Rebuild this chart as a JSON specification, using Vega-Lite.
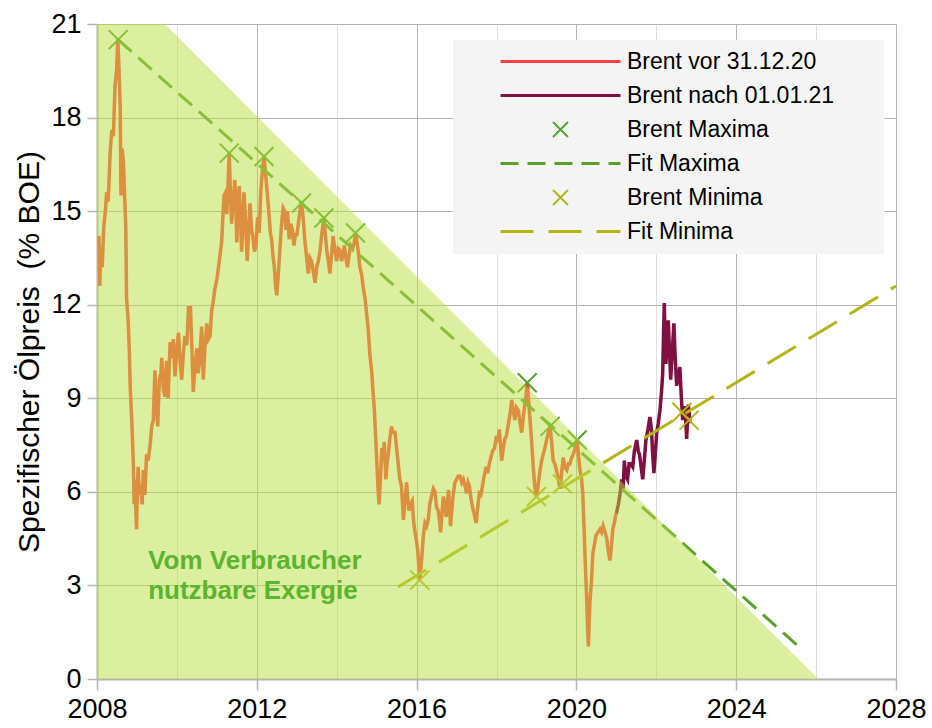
{
  "$schema": "https://vega.github.io/schema/vega-lite/v6.json",
  "width": 799,
  "height": 655,
  "autosize": "none",
  "padding": {"left": 97, "top": 24, "right": 36, "bottom": 49},
  "background": "white",
  "config": {
    "view": {"stroke": null},
    "font": "Liberation Sans",
    "axis": {
      "labelFont": "Liberation Sans",
      "labelFontSize": 27,
      "labelColor": "black",
      "titleFont": "Liberation Sans",
      "titleFontSize": 30,
      "titleFontWeight": "normal",
      "titleColor": "black",
      "domainColor": "#b3b3b3",
      "domainWidth": 2,
      "tickColor": "#b3b3b3",
      "tickWidth": 1.5,
      "gridColor": "#b3b3b3",
      "gridWidth": 1
    }
  },
  "datasets": {
    "brent": [
      {"year": 2008.05, "value": 14.2, "series": "Brent vor 31.12.20"},
      {"year": 2008.06, "value": 13.3, "series": "Brent vor 31.12.20"},
      {"year": 2008.07, "value": 12.6, "series": "Brent vor 31.12.20"},
      {"year": 2008.09, "value": 13.6, "series": "Brent vor 31.12.20"},
      {"year": 2008.13, "value": 13.2, "series": "Brent vor 31.12.20"},
      {"year": 2008.17, "value": 14.5, "series": "Brent vor 31.12.20"},
      {"year": 2008.21, "value": 15.0, "series": "Brent vor 31.12.20"},
      {"year": 2008.24, "value": 15.6, "series": "Brent vor 31.12.20"},
      {"year": 2008.28, "value": 15.3, "series": "Brent vor 31.12.20"},
      {"year": 2008.33, "value": 16.9, "series": "Brent vor 31.12.20"},
      {"year": 2008.37, "value": 17.6, "series": "Brent vor 31.12.20"},
      {"year": 2008.41, "value": 17.4, "series": "Brent vor 31.12.20"},
      {"year": 2008.45, "value": 19.0, "series": "Brent vor 31.12.20"},
      {"year": 2008.49, "value": 19.5, "series": "Brent vor 31.12.20"},
      {"year": 2008.52, "value": 20.5, "series": "Brent vor 31.12.20"},
      {"year": 2008.55, "value": 19.6, "series": "Brent vor 31.12.20"},
      {"year": 2008.58, "value": 18.4, "series": "Brent vor 31.12.20"},
      {"year": 2008.60, "value": 15.5, "series": "Brent vor 31.12.20"},
      {"year": 2008.63, "value": 17.0, "series": "Brent vor 31.12.20"},
      {"year": 2008.66, "value": 16.6, "series": "Brent vor 31.12.20"},
      {"year": 2008.70, "value": 15.2, "series": "Brent vor 31.12.20"},
      {"year": 2008.72, "value": 14.5, "series": "Brent vor 31.12.20"},
      {"year": 2008.74, "value": 12.2, "series": "Brent vor 31.12.20"},
      {"year": 2008.78, "value": 11.5, "series": "Brent vor 31.12.20"},
      {"year": 2008.81, "value": 10.5, "series": "Brent vor 31.12.20"},
      {"year": 2008.83, "value": 9.4, "series": "Brent vor 31.12.20"},
      {"year": 2008.87, "value": 8.3, "series": "Brent vor 31.12.20"},
      {"year": 2008.91, "value": 6.9, "series": "Brent vor 31.12.20"},
      {"year": 2008.93, "value": 5.6, "series": "Brent vor 31.12.20"},
      {"year": 2008.95, "value": 6.4, "series": "Brent vor 31.12.20"},
      {"year": 2008.97, "value": 5.5, "series": "Brent vor 31.12.20"},
      {"year": 2008.99, "value": 4.8, "series": "Brent vor 31.12.20"},
      {"year": 2009.01, "value": 6.1, "series": "Brent vor 31.12.20"},
      {"year": 2009.03, "value": 6.8, "series": "Brent vor 31.12.20"},
      {"year": 2009.06, "value": 5.9, "series": "Brent vor 31.12.20"},
      {"year": 2009.10, "value": 6.2, "series": "Brent vor 31.12.20"},
      {"year": 2009.13, "value": 5.6, "series": "Brent vor 31.12.20"},
      {"year": 2009.16, "value": 6.7, "series": "Brent vor 31.12.20"},
      {"year": 2009.20, "value": 5.9, "series": "Brent vor 31.12.20"},
      {"year": 2009.24, "value": 7.2, "series": "Brent vor 31.12.20"},
      {"year": 2009.28, "value": 7.0, "series": "Brent vor 31.12.20"},
      {"year": 2009.33, "value": 7.5, "series": "Brent vor 31.12.20"},
      {"year": 2009.37, "value": 8.1, "series": "Brent vor 31.12.20"},
      {"year": 2009.41, "value": 8.3, "series": "Brent vor 31.12.20"},
      {"year": 2009.45, "value": 9.9, "series": "Brent vor 31.12.20"},
      {"year": 2009.48, "value": 8.8, "series": "Brent vor 31.12.20"},
      {"year": 2009.52, "value": 8.1, "series": "Brent vor 31.12.20"},
      {"year": 2009.56, "value": 9.6, "series": "Brent vor 31.12.20"},
      {"year": 2009.60, "value": 9.8, "series": "Brent vor 31.12.20"},
      {"year": 2009.62, "value": 10.3, "series": "Brent vor 31.12.20"},
      {"year": 2009.66, "value": 9.3, "series": "Brent vor 31.12.20"},
      {"year": 2009.70, "value": 9.05, "series": "Brent vor 31.12.20"},
      {"year": 2009.74, "value": 10.2, "series": "Brent vor 31.12.20"},
      {"year": 2009.78, "value": 9.0, "series": "Brent vor 31.12.20"},
      {"year": 2009.83, "value": 10.8, "series": "Brent vor 31.12.20"},
      {"year": 2009.87, "value": 10.3, "series": "Brent vor 31.12.20"},
      {"year": 2009.91, "value": 10.9, "series": "Brent vor 31.12.20"},
      {"year": 2009.95, "value": 9.7, "series": "Brent vor 31.12.20"},
      {"year": 2010.00, "value": 10.6, "series": "Brent vor 31.12.20"},
      {"year": 2010.04, "value": 11.1, "series": "Brent vor 31.12.20"},
      {"year": 2010.08, "value": 10.2, "series": "Brent vor 31.12.20"},
      {"year": 2010.12, "value": 9.6, "series": "Brent vor 31.12.20"},
      {"year": 2010.16, "value": 10.4, "series": "Brent vor 31.12.20"},
      {"year": 2010.20, "value": 11.0, "series": "Brent vor 31.12.20"},
      {"year": 2010.25, "value": 10.7, "series": "Brent vor 31.12.20"},
      {"year": 2010.29, "value": 11.9, "series": "Brent vor 31.12.20"},
      {"year": 2010.34, "value": 11.9, "series": "Brent vor 31.12.20"},
      {"year": 2010.38, "value": 10.4, "series": "Brent vor 31.12.20"},
      {"year": 2010.41, "value": 9.2, "series": "Brent vor 31.12.20"},
      {"year": 2010.45, "value": 10.0, "series": "Brent vor 31.12.20"},
      {"year": 2010.50, "value": 10.6, "series": "Brent vor 31.12.20"},
      {"year": 2010.53, "value": 9.8, "series": "Brent vor 31.12.20"},
      {"year": 2010.56, "value": 10.1, "series": "Brent vor 31.12.20"},
      {"year": 2010.60, "value": 10.9, "series": "Brent vor 31.12.20"},
      {"year": 2010.62, "value": 11.3, "series": "Brent vor 31.12.20"},
      {"year": 2010.66, "value": 9.6, "series": "Brent vor 31.12.20"},
      {"year": 2010.70, "value": 10.6, "series": "Brent vor 31.12.20"},
      {"year": 2010.75, "value": 11.4, "series": "Brent vor 31.12.20"},
      {"year": 2010.79, "value": 10.9, "series": "Brent vor 31.12.20"},
      {"year": 2010.83, "value": 11.0, "series": "Brent vor 31.12.20"},
      {"year": 2010.87, "value": 11.8, "series": "Brent vor 31.12.20"},
      {"year": 2010.91, "value": 12.1, "series": "Brent vor 31.12.20"},
      {"year": 2010.95, "value": 12.5, "series": "Brent vor 31.12.20"},
      {"year": 2011.00, "value": 12.8, "series": "Brent vor 31.12.20"},
      {"year": 2011.04, "value": 13.2, "series": "Brent vor 31.12.20"},
      {"year": 2011.08, "value": 13.6, "series": "Brent vor 31.12.20"},
      {"year": 2011.12, "value": 14.0, "series": "Brent vor 31.12.20"},
      {"year": 2011.15, "value": 14.8, "series": "Brent vor 31.12.20"},
      {"year": 2011.18, "value": 15.5, "series": "Brent vor 31.12.20"},
      {"year": 2011.22, "value": 15.6, "series": "Brent vor 31.12.20"},
      {"year": 2011.25, "value": 14.9, "series": "Brent vor 31.12.20"},
      {"year": 2011.28, "value": 15.9, "series": "Brent vor 31.12.20"},
      {"year": 2011.31, "value": 16.85, "series": "Brent vor 31.12.20"},
      {"year": 2011.34, "value": 15.6, "series": "Brent vor 31.12.20"},
      {"year": 2011.37, "value": 14.6, "series": "Brent vor 31.12.20"},
      {"year": 2011.41, "value": 15.3, "series": "Brent vor 31.12.20"},
      {"year": 2011.45, "value": 16.0, "series": "Brent vor 31.12.20"},
      {"year": 2011.48, "value": 15.0, "series": "Brent vor 31.12.20"},
      {"year": 2011.50, "value": 14.0, "series": "Brent vor 31.12.20"},
      {"year": 2011.53, "value": 15.2, "series": "Brent vor 31.12.20"},
      {"year": 2011.56, "value": 15.8, "series": "Brent vor 31.12.20"},
      {"year": 2011.59, "value": 14.9, "series": "Brent vor 31.12.20"},
      {"year": 2011.62, "value": 13.7, "series": "Brent vor 31.12.20"},
      {"year": 2011.65, "value": 14.6, "series": "Brent vor 31.12.20"},
      {"year": 2011.68, "value": 15.6, "series": "Brent vor 31.12.20"},
      {"year": 2011.72, "value": 14.6, "series": "Brent vor 31.12.20"},
      {"year": 2011.76, "value": 13.4, "series": "Brent vor 31.12.20"},
      {"year": 2011.80, "value": 14.5, "series": "Brent vor 31.12.20"},
      {"year": 2011.83, "value": 15.25, "series": "Brent vor 31.12.20"},
      {"year": 2011.87, "value": 14.4, "series": "Brent vor 31.12.20"},
      {"year": 2011.90, "value": 14.2, "series": "Brent vor 31.12.20"},
      {"year": 2011.94, "value": 13.7, "series": "Brent vor 31.12.20"},
      {"year": 2011.98, "value": 13.9, "series": "Brent vor 31.12.20"},
      {"year": 2012.02, "value": 14.8, "series": "Brent vor 31.12.20"},
      {"year": 2012.06, "value": 14.3, "series": "Brent vor 31.12.20"},
      {"year": 2012.10, "value": 15.6, "series": "Brent vor 31.12.20"},
      {"year": 2012.14, "value": 16.3, "series": "Brent vor 31.12.20"},
      {"year": 2012.18, "value": 16.75, "series": "Brent vor 31.12.20"},
      {"year": 2012.22, "value": 16.2, "series": "Brent vor 31.12.20"},
      {"year": 2012.26, "value": 15.6, "series": "Brent vor 31.12.20"},
      {"year": 2012.30, "value": 15.0, "series": "Brent vor 31.12.20"},
      {"year": 2012.34, "value": 14.3, "series": "Brent vor 31.12.20"},
      {"year": 2012.37, "value": 14.1, "series": "Brent vor 31.12.20"},
      {"year": 2012.41, "value": 13.5, "series": "Brent vor 31.12.20"},
      {"year": 2012.44, "value": 13.2, "series": "Brent vor 31.12.20"},
      {"year": 2012.47, "value": 12.6, "series": "Brent vor 31.12.20"},
      {"year": 2012.50, "value": 12.3, "series": "Brent vor 31.12.20"},
      {"year": 2012.54, "value": 13.0, "series": "Brent vor 31.12.20"},
      {"year": 2012.58, "value": 13.8, "series": "Brent vor 31.12.20"},
      {"year": 2012.62, "value": 14.6, "series": "Brent vor 31.12.20"},
      {"year": 2012.66, "value": 15.1, "series": "Brent vor 31.12.20"},
      {"year": 2012.70, "value": 15.0, "series": "Brent vor 31.12.20"},
      {"year": 2012.73, "value": 14.4, "series": "Brent vor 31.12.20"},
      {"year": 2012.77, "value": 15.0, "series": "Brent vor 31.12.20"},
      {"year": 2012.81, "value": 14.1, "series": "Brent vor 31.12.20"},
      {"year": 2012.85, "value": 14.6, "series": "Brent vor 31.12.20"},
      {"year": 2012.89, "value": 14.4, "series": "Brent vor 31.12.20"},
      {"year": 2012.93, "value": 13.9, "series": "Brent vor 31.12.20"},
      {"year": 2012.97, "value": 14.3, "series": "Brent vor 31.12.20"},
      {"year": 2013.00, "value": 14.2, "series": "Brent vor 31.12.20"},
      {"year": 2013.04, "value": 14.6, "series": "Brent vor 31.12.20"},
      {"year": 2013.08, "value": 15.0, "series": "Brent vor 31.12.20"},
      {"year": 2013.12, "value": 15.25, "series": "Brent vor 31.12.20"},
      {"year": 2013.16, "value": 14.8, "series": "Brent vor 31.12.20"},
      {"year": 2013.20, "value": 14.1, "series": "Brent vor 31.12.20"},
      {"year": 2013.24, "value": 13.6, "series": "Brent vor 31.12.20"},
      {"year": 2013.29, "value": 13.0, "series": "Brent vor 31.12.20"},
      {"year": 2013.33, "value": 13.5, "series": "Brent vor 31.12.20"},
      {"year": 2013.37, "value": 13.4, "series": "Brent vor 31.12.20"},
      {"year": 2013.41, "value": 13.1, "series": "Brent vor 31.12.20"},
      {"year": 2013.46, "value": 12.7, "series": "Brent vor 31.12.20"},
      {"year": 2013.50, "value": 13.2, "series": "Brent vor 31.12.20"},
      {"year": 2013.54, "value": 13.4, "series": "Brent vor 31.12.20"},
      {"year": 2013.58, "value": 13.7, "series": "Brent vor 31.12.20"},
      {"year": 2013.63, "value": 14.3, "series": "Brent vor 31.12.20"},
      {"year": 2013.68, "value": 14.8, "series": "Brent vor 31.12.20"},
      {"year": 2013.72, "value": 14.2, "series": "Brent vor 31.12.20"},
      {"year": 2013.75, "value": 13.75, "series": "Brent vor 31.12.20"},
      {"year": 2013.79, "value": 13.4, "series": "Brent vor 31.12.20"},
      {"year": 2013.83, "value": 13.0, "series": "Brent vor 31.12.20"},
      {"year": 2013.87, "value": 13.6, "series": "Brent vor 31.12.20"},
      {"year": 2013.91, "value": 14.2, "series": "Brent vor 31.12.20"},
      {"year": 2013.95, "value": 13.8, "series": "Brent vor 31.12.20"},
      {"year": 2014.00, "value": 13.4, "series": "Brent vor 31.12.20"},
      {"year": 2014.04, "value": 13.8, "series": "Brent vor 31.12.20"},
      {"year": 2014.08, "value": 13.75, "series": "Brent vor 31.12.20"},
      {"year": 2014.12, "value": 13.4, "series": "Brent vor 31.12.20"},
      {"year": 2014.16, "value": 13.6, "series": "Brent vor 31.12.20"},
      {"year": 2014.19, "value": 13.9, "series": "Brent vor 31.12.20"},
      {"year": 2014.23, "value": 13.5, "series": "Brent vor 31.12.20"},
      {"year": 2014.27, "value": 13.2, "series": "Brent vor 31.12.20"},
      {"year": 2014.31, "value": 13.6, "series": "Brent vor 31.12.20"},
      {"year": 2014.35, "value": 13.9, "series": "Brent vor 31.12.20"},
      {"year": 2014.40, "value": 13.8, "series": "Brent vor 31.12.20"},
      {"year": 2014.44, "value": 14.0, "series": "Brent vor 31.12.20"},
      {"year": 2014.47, "value": 14.3, "series": "Brent vor 31.12.20"},
      {"year": 2014.50, "value": 14.1, "series": "Brent vor 31.12.20"},
      {"year": 2014.54, "value": 13.7, "series": "Brent vor 31.12.20"},
      {"year": 2014.58, "value": 13.2, "series": "Brent vor 31.12.20"},
      {"year": 2014.62, "value": 13.0, "series": "Brent vor 31.12.20"},
      {"year": 2014.67, "value": 12.5, "series": "Brent vor 31.12.20"},
      {"year": 2014.71, "value": 12.2, "series": "Brent vor 31.12.20"},
      {"year": 2014.75, "value": 11.7, "series": "Brent vor 31.12.20"},
      {"year": 2014.79, "value": 11.2, "series": "Brent vor 31.12.20"},
      {"year": 2014.83, "value": 10.4, "series": "Brent vor 31.12.20"},
      {"year": 2014.88, "value": 9.8, "series": "Brent vor 31.12.20"},
      {"year": 2014.91, "value": 9.2, "series": "Brent vor 31.12.20"},
      {"year": 2014.94, "value": 8.7, "series": "Brent vor 31.12.20"},
      {"year": 2014.97, "value": 7.9, "series": "Brent vor 31.12.20"},
      {"year": 2015.00, "value": 7.1, "series": "Brent vor 31.12.20"},
      {"year": 2015.03, "value": 6.2, "series": "Brent vor 31.12.20"},
      {"year": 2015.06, "value": 5.6, "series": "Brent vor 31.12.20"},
      {"year": 2015.09, "value": 6.3, "series": "Brent vor 31.12.20"},
      {"year": 2015.13, "value": 7.4, "series": "Brent vor 31.12.20"},
      {"year": 2015.16, "value": 7.0, "series": "Brent vor 31.12.20"},
      {"year": 2015.19, "value": 7.6, "series": "Brent vor 31.12.20"},
      {"year": 2015.23, "value": 6.4, "series": "Brent vor 31.12.20"},
      {"year": 2015.26, "value": 6.9, "series": "Brent vor 31.12.20"},
      {"year": 2015.29, "value": 7.2, "series": "Brent vor 31.12.20"},
      {"year": 2015.33, "value": 7.7, "series": "Brent vor 31.12.20"},
      {"year": 2015.37, "value": 8.1, "series": "Brent vor 31.12.20"},
      {"year": 2015.41, "value": 7.9, "series": "Brent vor 31.12.20"},
      {"year": 2015.46, "value": 7.9, "series": "Brent vor 31.12.20"},
      {"year": 2015.50, "value": 7.4, "series": "Brent vor 31.12.20"},
      {"year": 2015.54, "value": 6.9, "series": "Brent vor 31.12.20"},
      {"year": 2015.58, "value": 6.4, "series": "Brent vor 31.12.20"},
      {"year": 2015.62, "value": 6.2, "series": "Brent vor 31.12.20"},
      {"year": 2015.67, "value": 5.1, "series": "Brent vor 31.12.20"},
      {"year": 2015.71, "value": 5.7, "series": "Brent vor 31.12.20"},
      {"year": 2015.75, "value": 6.3, "series": "Brent vor 31.12.20"},
      {"year": 2015.78, "value": 5.8, "series": "Brent vor 31.12.20"},
      {"year": 2015.81, "value": 5.4, "series": "Brent vor 31.12.20"},
      {"year": 2015.85, "value": 5.6, "series": "Brent vor 31.12.20"},
      {"year": 2015.89, "value": 5.7, "series": "Brent vor 31.12.20"},
      {"year": 2015.93, "value": 5.0, "series": "Brent vor 31.12.20"},
      {"year": 2015.96, "value": 4.7, "series": "Brent vor 31.12.20"},
      {"year": 2016.00, "value": 4.4, "series": "Brent vor 31.12.20"},
      {"year": 2016.03, "value": 4.1, "series": "Brent vor 31.12.20"},
      {"year": 2016.06, "value": 3.5, "series": "Brent vor 31.12.20"},
      {"year": 2016.08, "value": 3.2, "series": "Brent vor 31.12.20"},
      {"year": 2016.11, "value": 3.6, "series": "Brent vor 31.12.20"},
      {"year": 2016.13, "value": 3.9, "series": "Brent vor 31.12.20"},
      {"year": 2016.17, "value": 4.6, "series": "Brent vor 31.12.20"},
      {"year": 2016.21, "value": 5.0, "series": "Brent vor 31.12.20"},
      {"year": 2016.25, "value": 4.9, "series": "Brent vor 31.12.20"},
      {"year": 2016.29, "value": 5.1, "series": "Brent vor 31.12.20"},
      {"year": 2016.33, "value": 5.6, "series": "Brent vor 31.12.20"},
      {"year": 2016.38, "value": 5.9, "series": "Brent vor 31.12.20"},
      {"year": 2016.42, "value": 6.1, "series": "Brent vor 31.12.20"},
      {"year": 2016.46, "value": 6.0, "series": "Brent vor 31.12.20"},
      {"year": 2016.50, "value": 5.5, "series": "Brent vor 31.12.20"},
      {"year": 2016.54, "value": 5.4, "series": "Brent vor 31.12.20"},
      {"year": 2016.58, "value": 5.0, "series": "Brent vor 31.12.20"},
      {"year": 2016.60, "value": 4.7, "series": "Brent vor 31.12.20"},
      {"year": 2016.64, "value": 5.4, "series": "Brent vor 31.12.20"},
      {"year": 2016.67, "value": 5.85, "series": "Brent vor 31.12.20"},
      {"year": 2016.71, "value": 5.5, "series": "Brent vor 31.12.20"},
      {"year": 2016.74, "value": 5.2, "series": "Brent vor 31.12.20"},
      {"year": 2016.77, "value": 5.7, "series": "Brent vor 31.12.20"},
      {"year": 2016.80, "value": 6.06, "series": "Brent vor 31.12.20"},
      {"year": 2016.83, "value": 5.4, "series": "Brent vor 31.12.20"},
      {"year": 2016.85, "value": 4.9, "series": "Brent vor 31.12.20"},
      {"year": 2016.88, "value": 5.4, "series": "Brent vor 31.12.20"},
      {"year": 2016.92, "value": 5.95, "series": "Brent vor 31.12.20"},
      {"year": 2016.96, "value": 6.3, "series": "Brent vor 31.12.20"},
      {"year": 2017.00, "value": 6.4, "series": "Brent vor 31.12.20"},
      {"year": 2017.04, "value": 6.5, "series": "Brent vor 31.12.20"},
      {"year": 2017.09, "value": 6.5, "series": "Brent vor 31.12.20"},
      {"year": 2017.13, "value": 6.3, "series": "Brent vor 31.12.20"},
      {"year": 2017.17, "value": 6.4, "series": "Brent vor 31.12.20"},
      {"year": 2017.21, "value": 6.2, "series": "Brent vor 31.12.20"},
      {"year": 2017.25, "value": 5.95, "series": "Brent vor 31.12.20"},
      {"year": 2017.29, "value": 6.3, "series": "Brent vor 31.12.20"},
      {"year": 2017.32, "value": 6.2, "series": "Brent vor 31.12.20"},
      {"year": 2017.36, "value": 5.8, "series": "Brent vor 31.12.20"},
      {"year": 2017.40, "value": 5.5, "series": "Brent vor 31.12.20"},
      {"year": 2017.44, "value": 5.3, "series": "Brent vor 31.12.20"},
      {"year": 2017.49, "value": 5.0, "series": "Brent vor 31.12.20"},
      {"year": 2017.53, "value": 5.5, "series": "Brent vor 31.12.20"},
      {"year": 2017.57, "value": 5.95, "series": "Brent vor 31.12.20"},
      {"year": 2017.61, "value": 5.9, "series": "Brent vor 31.12.20"},
      {"year": 2017.65, "value": 6.2, "series": "Brent vor 31.12.20"},
      {"year": 2017.69, "value": 6.5, "series": "Brent vor 31.12.20"},
      {"year": 2017.74, "value": 6.8, "series": "Brent vor 31.12.20"},
      {"year": 2017.78, "value": 6.6, "series": "Brent vor 31.12.20"},
      {"year": 2017.82, "value": 6.9, "series": "Brent vor 31.12.20"},
      {"year": 2017.86, "value": 7.1, "series": "Brent vor 31.12.20"},
      {"year": 2017.90, "value": 7.3, "series": "Brent vor 31.12.20"},
      {"year": 2017.95, "value": 7.4, "series": "Brent vor 31.12.20"},
      {"year": 2018.00, "value": 7.8, "series": "Brent vor 31.12.20"},
      {"year": 2018.04, "value": 7.6, "series": "Brent vor 31.12.20"},
      {"year": 2018.07, "value": 8.0, "series": "Brent vor 31.12.20"},
      {"year": 2018.10, "value": 7.5, "series": "Brent vor 31.12.20"},
      {"year": 2018.13, "value": 7.0, "series": "Brent vor 31.12.20"},
      {"year": 2018.17, "value": 7.4, "series": "Brent vor 31.12.20"},
      {"year": 2018.21, "value": 7.7, "series": "Brent vor 31.12.20"},
      {"year": 2018.25, "value": 7.8, "series": "Brent vor 31.12.20"},
      {"year": 2018.30, "value": 8.2, "series": "Brent vor 31.12.20"},
      {"year": 2018.34, "value": 8.5, "series": "Brent vor 31.12.20"},
      {"year": 2018.38, "value": 8.95, "series": "Brent vor 31.12.20"},
      {"year": 2018.42, "value": 8.6, "series": "Brent vor 31.12.20"},
      {"year": 2018.46, "value": 8.3, "series": "Brent vor 31.12.20"},
      {"year": 2018.50, "value": 8.7, "series": "Brent vor 31.12.20"},
      {"year": 2018.55, "value": 8.6, "series": "Brent vor 31.12.20"},
      {"year": 2018.59, "value": 8.2, "series": "Brent vor 31.12.20"},
      {"year": 2018.63, "value": 7.9, "series": "Brent vor 31.12.20"},
      {"year": 2018.67, "value": 8.4, "series": "Brent vor 31.12.20"},
      {"year": 2018.71, "value": 8.8, "series": "Brent vor 31.12.20"},
      {"year": 2018.74, "value": 9.1, "series": "Brent vor 31.12.20"},
      {"year": 2018.77, "value": 9.5, "series": "Brent vor 31.12.20"},
      {"year": 2018.80, "value": 9.0, "series": "Brent vor 31.12.20"},
      {"year": 2018.84, "value": 8.3, "series": "Brent vor 31.12.20"},
      {"year": 2018.88, "value": 7.6, "series": "Brent vor 31.12.20"},
      {"year": 2018.92, "value": 6.8, "series": "Brent vor 31.12.20"},
      {"year": 2018.95, "value": 6.3, "series": "Brent vor 31.12.20"},
      {"year": 2018.99, "value": 5.85, "series": "Brent vor 31.12.20"},
      {"year": 2019.02, "value": 6.0, "series": "Brent vor 31.12.20"},
      {"year": 2019.06, "value": 6.4, "series": "Brent vor 31.12.20"},
      {"year": 2019.09, "value": 6.7, "series": "Brent vor 31.12.20"},
      {"year": 2019.13, "value": 7.0, "series": "Brent vor 31.12.20"},
      {"year": 2019.17, "value": 7.2, "series": "Brent vor 31.12.20"},
      {"year": 2019.21, "value": 7.4, "series": "Brent vor 31.12.20"},
      {"year": 2019.26, "value": 7.7, "series": "Brent vor 31.12.20"},
      {"year": 2019.30, "value": 7.9, "series": "Brent vor 31.12.20"},
      {"year": 2019.34, "value": 8.1, "series": "Brent vor 31.12.20"},
      {"year": 2019.38, "value": 7.6, "series": "Brent vor 31.12.20"},
      {"year": 2019.42, "value": 7.0, "series": "Brent vor 31.12.20"},
      {"year": 2019.46, "value": 6.9, "series": "Brent vor 31.12.20"},
      {"year": 2019.50, "value": 6.7, "series": "Brent vor 31.12.20"},
      {"year": 2019.55, "value": 6.4, "series": "Brent vor 31.12.20"},
      {"year": 2019.59, "value": 6.1, "series": "Brent vor 31.12.20"},
      {"year": 2019.63, "value": 6.6, "series": "Brent vor 31.12.20"},
      {"year": 2019.67, "value": 7.1, "series": "Brent vor 31.12.20"},
      {"year": 2019.71, "value": 6.8, "series": "Brent vor 31.12.20"},
      {"year": 2019.76, "value": 6.7, "series": "Brent vor 31.12.20"},
      {"year": 2019.80, "value": 6.9, "series": "Brent vor 31.12.20"},
      {"year": 2019.84, "value": 6.9, "series": "Brent vor 31.12.20"},
      {"year": 2019.88, "value": 7.1, "series": "Brent vor 31.12.20"},
      {"year": 2019.92, "value": 7.2, "series": "Brent vor 31.12.20"},
      {"year": 2019.97, "value": 7.4, "series": "Brent vor 31.12.20"},
      {"year": 2020.02, "value": 7.66, "series": "Brent vor 31.12.20"},
      {"year": 2020.05, "value": 7.2, "series": "Brent vor 31.12.20"},
      {"year": 2020.09, "value": 6.7, "series": "Brent vor 31.12.20"},
      {"year": 2020.13, "value": 6.4, "series": "Brent vor 31.12.20"},
      {"year": 2020.16, "value": 5.95, "series": "Brent vor 31.12.20"},
      {"year": 2020.19, "value": 4.9, "series": "Brent vor 31.12.20"},
      {"year": 2020.22, "value": 3.8, "series": "Brent vor 31.12.20"},
      {"year": 2020.26, "value": 2.5, "series": "Brent vor 31.12.20"},
      {"year": 2020.28, "value": 1.6, "series": "Brent vor 31.12.20"},
      {"year": 2020.30, "value": 1.04, "series": "Brent vor 31.12.20"},
      {"year": 2020.32, "value": 1.8, "series": "Brent vor 31.12.20"},
      {"year": 2020.34, "value": 2.5, "series": "Brent vor 31.12.20"},
      {"year": 2020.38, "value": 3.2, "series": "Brent vor 31.12.20"},
      {"year": 2020.41, "value": 4.0, "series": "Brent vor 31.12.20"},
      {"year": 2020.45, "value": 4.3, "series": "Brent vor 31.12.20"},
      {"year": 2020.49, "value": 4.6, "series": "Brent vor 31.12.20"},
      {"year": 2020.54, "value": 4.7, "series": "Brent vor 31.12.20"},
      {"year": 2020.59, "value": 4.8, "series": "Brent vor 31.12.20"},
      {"year": 2020.63, "value": 4.7, "series": "Brent vor 31.12.20"},
      {"year": 2020.67, "value": 4.9, "series": "Brent vor 31.12.20"},
      {"year": 2020.72, "value": 4.7, "series": "Brent vor 31.12.20"},
      {"year": 2020.76, "value": 4.5, "series": "Brent vor 31.12.20"},
      {"year": 2020.80, "value": 4.1, "series": "Brent vor 31.12.20"},
      {"year": 2020.84, "value": 3.8, "series": "Brent vor 31.12.20"},
      {"year": 2020.88, "value": 4.3, "series": "Brent vor 31.12.20"},
      {"year": 2020.91, "value": 4.8, "series": "Brent vor 31.12.20"},
      {"year": 2020.95, "value": 5.0, "series": "Brent vor 31.12.20"},
      {"year": 2020.99, "value": 5.3, "series": "Brent vor 31.12.20"},
      {"year": 2021.00, "value": 5.3, "series": "Brent nach 01.01.21"},
      {"year": 2021.05, "value": 5.6, "series": "Brent nach 01.01.21"},
      {"year": 2021.10, "value": 6.0, "series": "Brent nach 01.01.21"},
      {"year": 2021.13, "value": 6.4, "series": "Brent nach 01.01.21"},
      {"year": 2021.17, "value": 6.1, "series": "Brent nach 01.01.21"},
      {"year": 2021.20, "value": 7.0, "series": "Brent nach 01.01.21"},
      {"year": 2021.24, "value": 6.5, "series": "Brent nach 01.01.21"},
      {"year": 2021.28, "value": 6.4, "series": "Brent nach 01.01.21"},
      {"year": 2021.32, "value": 6.9, "series": "Brent nach 01.01.21"},
      {"year": 2021.36, "value": 6.9, "series": "Brent nach 01.01.21"},
      {"year": 2021.41, "value": 6.8, "series": "Brent nach 01.01.21"},
      {"year": 2021.45, "value": 7.3, "series": "Brent nach 01.01.21"},
      {"year": 2021.51, "value": 7.66, "series": "Brent nach 01.01.21"},
      {"year": 2021.55, "value": 7.3, "series": "Brent nach 01.01.21"},
      {"year": 2021.58, "value": 7.2, "series": "Brent nach 01.01.21"},
      {"year": 2021.62, "value": 6.8, "series": "Brent nach 01.01.21"},
      {"year": 2021.66, "value": 6.4, "series": "Brent nach 01.01.21"},
      {"year": 2021.70, "value": 7.0, "series": "Brent nach 01.01.21"},
      {"year": 2021.74, "value": 7.66, "series": "Brent nach 01.01.21"},
      {"year": 2021.79, "value": 8.0, "series": "Brent nach 01.01.21"},
      {"year": 2021.84, "value": 8.4, "series": "Brent nach 01.01.21"},
      {"year": 2021.88, "value": 7.98, "series": "Brent nach 01.01.21"},
      {"year": 2021.91, "value": 7.2, "series": "Brent nach 01.01.21"},
      {"year": 2021.94, "value": 6.6, "series": "Brent nach 01.01.21"},
      {"year": 2021.98, "value": 7.3, "series": "Brent nach 01.01.21"},
      {"year": 2022.01, "value": 7.9, "series": "Brent nach 01.01.21"},
      {"year": 2022.05, "value": 8.2, "series": "Brent nach 01.01.21"},
      {"year": 2022.09, "value": 8.6, "series": "Brent nach 01.01.21"},
      {"year": 2022.13, "value": 9.2, "series": "Brent nach 01.01.21"},
      {"year": 2022.16, "value": 9.8, "series": "Brent nach 01.01.21"},
      {"year": 2022.18, "value": 11.0, "series": "Brent nach 01.01.21"},
      {"year": 2022.20, "value": 12.05, "series": "Brent nach 01.01.21"},
      {"year": 2022.22, "value": 10.8, "series": "Brent nach 01.01.21"},
      {"year": 2022.24, "value": 10.1, "series": "Brent nach 01.01.21"},
      {"year": 2022.27, "value": 10.9, "series": "Brent nach 01.01.21"},
      {"year": 2022.30, "value": 11.5, "series": "Brent nach 01.01.21"},
      {"year": 2022.33, "value": 10.5, "series": "Brent nach 01.01.21"},
      {"year": 2022.36, "value": 9.6, "series": "Brent nach 01.01.21"},
      {"year": 2022.40, "value": 10.5, "series": "Brent nach 01.01.21"},
      {"year": 2022.44, "value": 11.4, "series": "Brent nach 01.01.21"},
      {"year": 2022.47, "value": 10.4, "series": "Brent nach 01.01.21"},
      {"year": 2022.51, "value": 9.4, "series": "Brent nach 01.01.21"},
      {"year": 2022.55, "value": 9.7, "series": "Brent nach 01.01.21"},
      {"year": 2022.59, "value": 10.0, "series": "Brent nach 01.01.21"},
      {"year": 2022.62, "value": 9.2, "series": "Brent nach 01.01.21"},
      {"year": 2022.66, "value": 8.3, "series": "Brent nach 01.01.21"},
      {"year": 2022.69, "value": 8.7, "series": "Brent nach 01.01.21"},
      {"year": 2022.72, "value": 8.7, "series": "Brent nach 01.01.21"},
      {"year": 2022.76, "value": 7.7, "series": "Brent nach 01.01.21"},
      {"year": 2022.80, "value": 8.8, "series": "Brent nach 01.01.21"},
      {"year": 2022.85, "value": 8.2, "series": "Brent nach 01.01.21"}
    ],
    "fits": [
      {"year": 2008.53, "value": 20.5, "series": "Fit Maxima"},
      {"year": 2025.52, "value": 1.09, "series": "Fit Maxima"},
      {"year": 2015.53, "value": 2.95, "series": "Fit Minima"},
      {"year": 2028.0, "value": 12.6, "series": "Fit Minima"}
    ],
    "extrema": [
      {"year": 2008.53, "value": 20.5, "series": "Brent Maxima"},
      {"year": 2011.31, "value": 16.86, "series": "Brent Maxima"},
      {"year": 2012.18, "value": 16.75, "series": "Brent Maxima"},
      {"year": 2013.12, "value": 15.26, "series": "Brent Maxima"},
      {"year": 2013.68, "value": 14.78, "series": "Brent Maxima"},
      {"year": 2014.47, "value": 14.3, "series": "Brent Maxima"},
      {"year": 2018.77, "value": 9.5, "series": "Brent Maxima"},
      {"year": 2019.34, "value": 8.1, "series": "Brent Maxima"},
      {"year": 2020.02, "value": 7.66, "series": "Brent Maxima"},
      {"year": 2016.08, "value": 3.17, "series": "Brent Minima"},
      {"year": 2019.0, "value": 5.85, "series": "Brent Minima"},
      {"year": 2019.65, "value": 6.25, "series": "Brent Minima"},
      {"year": 2022.64, "value": 8.55, "series": "Brent Minima"},
      {"year": 2022.82, "value": 8.3, "series": "Brent Minima"}
    ],
    "region": [
      {"year": 2008.0, "top": 21},
      {"year": 2009.7, "top": 21},
      {"year": 2026.05, "top": 0}
    ]
  },
  "layer": [
    {
      "data": {"name": "brent"},
      "mark": {"type": "line", "strokeWidth": 3.5, "interpolate": "linear"},
      "encoding": {
        "x": {
          "field": "year", "type": "quantitative",
          "scale": {"domain": [2008, 2028], "nice": false, "zero": false},
          "axis": {
            "title": null,
            "values": [2008,2009,2010,2011,2012,2013,2014,2015,2016,2017,2018,2019,2020,2021,2022,2023,2024,2025,2026,2027,2028],
            "format": "d",
            "labelExpr": "datum.value % 4 === 0 ? datum.label : ''",
            "labelOverlap": false,
            "labelFlush": false,
            "labelPadding": 6,
            "tickSize": 11,
            "tickOpacity": {"condition": {"test": "datum.value % 4 === 0", "value": 1}, "value": 0},
            "gridColor": {"condition": {"test": "datum.value % 4 === 0", "value": "#b3b3b3"}, "value": "#dedede"}
          }
        },
        "y": {
          "field": "value", "type": "quantitative",
          "scale": {"domain": [0, 21], "nice": false, "zero": true},
          "axis": {
            "title": "Spezifischer Ölpreis \u00a0(% BOE)",
            "values": [0, 3, 6, 9, 12, 15, 18, 21],
            "labelPadding": 6,
            "tickSize": 10,
            "titlePadding": 6
          }
        },
        "color": {
          "field": "series", "type": "nominal",
          "scale": {
            "domain": ["Brent vor 31.12.20", "Brent nach 01.01.21", "Brent Maxima", "Fit Maxima", "Brent Minima", "Fit Minima"],
            "range": ["#ff3f3f", "#7f1041", "#55a02a", "#5aa02c", "#b2b416", "#b2b416"]
          },
          "legend": {
            "title": null,
            "orient": "none",
            "legendX": 356,
            "legendY": 16,
            "padding": 10,
            "fillColor": "#f4f4f4",
            "labelFont": "Liberation Sans",
            "labelFontSize": 23,
            "labelColor": "black",
            "labelLimit": 400,
            "symbolSize": 225,
            "symbolStrokeWidth": 3,
            "symbolOffset": 86,
            "labelOffset": 55,
            "rowPadding": 10,
            "encode": {
              "symbols": {
                "update": {
                  "strokeWidth": {"signal": "indexof(['Brent Maxima','Brent Minima'], datum.value) >= 0 ? 2 : 3"},
                  "fill": {"value": "transparent"}
                }
              }
            }
          }
        }
      }
    },
    {
      "data": {"name": "fits"},
      "mark": {"type": "line", "strokeWidth": 3},
      "encoding": {
        "x": {"field": "year", "type": "quantitative"},
        "y": {"field": "value", "type": "quantitative"},
        "color": {"field": "series", "type": "nominal"},
        "strokeDash": {
          "field": "series", "type": "nominal",
          "scale": {
            "domain": ["Brent vor 31.12.20", "Brent nach 01.01.21", "Brent Maxima", "Fit Maxima", "Brent Minima", "Fit Minima"],
            "range": [[1, 0], [1, 0], [1, 0], [18, 9], [1, 0], [33, 15]]
          },
          "legend": {"title": null}
        }
      }
    },
    {
      "data": {"name": "extrema"},
      "mark": {"type": "point", "filled": false, "size": 361, "strokeWidth": 2, "opacity": 1},
      "encoding": {
        "x": {"field": "year", "type": "quantitative"},
        "y": {"field": "value", "type": "quantitative"},
        "color": {"field": "series", "type": "nominal"},
        "shape": {
          "field": "series", "type": "nominal",
          "scale": {
            "domain": ["Brent vor 31.12.20", "Brent nach 01.01.21", "Brent Maxima", "Fit Maxima", "Brent Minima", "Fit Minima"],
            "range": ["M-8,0L8,0M40.9,0L40.9,0", "M-8,0L8,0M40.9,0L40.9,0", "M-1,-1L1,1M-1,1L1,-1", "M-8,0L8,0M40.9,0L40.9,0", "M-1,-1L1,1M-1,1L1,-1", "M-8,0L8,0M40.9,0L40.9,0"]
          },
          "legend": {"title": null}
        }
      }
    },
    {
      "data": {"name": "region"},
      "mark": {"type": "area", "color": "#b8e040", "opacity": 0.5, "interpolate": "linear"},
      "encoding": {
        "x": {"field": "year", "type": "quantitative"},
        "y": {"field": "top", "type": "quantitative"}
      }
    },
    {
      "data": {"values": [{}]},
      "mark": {
        "type": "text",
        "align": "left",
        "baseline": "top",
        "font": "Liberation Sans",
        "fontSize": 26,
        "fontWeight": "bold",
        "color": "#5ab52e",
        "lineHeight": 30
      },
      "encoding": {
        "x": {"datum": 2009.28},
        "y": {"datum": 4.2},
        "text": {"value": ["Vom Verbraucher", "nutzbare Exergie"]}
      }
    }
  ]
}
